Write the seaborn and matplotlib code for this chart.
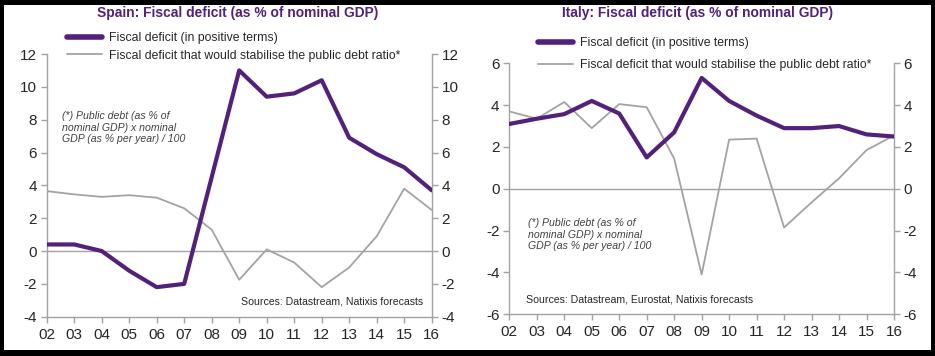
import pandas as pd
import matplotlib
matplotlib.use("Agg")
import matplotlib.pyplot as plt
import seaborn as sns
from matplotlib.patches import Rectangle
from matplotlib.lines import Line2D

# years on the x axis (20xx)
years = [2, 3, 4, 5, 6, 7, 8, 9, 10, 11, 12, 13, 14, 15, 16]
year_labels = ["02", "03", "04", "05", "06", "07", "08", "09", "10", "11", "12", "13", "14", "15", "16"]

# Spain
spain_deficit = [0.4, 0.4, 0.0, -1.2, -2.2, -2.0, 4.5, 11.0, 9.4, 9.6, 10.4, 6.9, 5.9, 5.1, 3.7]
spain_stable = [3.65, 3.45, 3.3, 3.4, 3.25, 2.6, 1.3, -1.75, 0.1, -0.7, -2.2, -1.0, 0.9, 3.8, 2.5]

# Italy
italy_deficit = [3.1, 3.35, 3.57, 4.2, 3.6, 1.5, 2.7, 5.3, 4.2, 3.5, 2.9, 2.9, 3.0, 2.6, 2.5]
italy_stable = [3.7, 3.35, 4.15, 2.9, 4.05, 3.9, 1.45, -4.1, 2.35, 2.4, -1.85, -0.65, 0.5, 1.85, 2.55]

PURPLE = "#53207a"
GREY = "#a3a3a3"
TEXT = "#262626"

sns.set_style("white")
plt.rcParams["font.family"] = ["Liberation Sans", "DejaVu Sans"]

W, H = 935, 356
fig = plt.figure(figsize=(W / 100, H / 100), dpi=100, facecolor="black")
# white panel inside the black frame
fig.patches.append(Rectangle((4 / W, 6 / H), (931 - 4) / W, (350 - 5) / H,
                             transform=fig.transFigure, facecolor="white",
                             edgecolor="none", zorder=-5))


def px_box(x0, y0, x1, y1):
    # pixel box (top-left origin) -> figure fraction [left, bottom, width, height]
    return [x0 / W, 1 - y1 / H, (x1 - x0) / W, (y1 - y0) / H]


def draw_panel(box, deficit, stable, ylim, yticks, title, title_xy, leg_xy, leg_gap,
               note_xy, source, source_xy):
    ax = fig.add_axes(px_box(*box))
    ax.set_facecolor("none")
    df = pd.DataFrame({"year": years, "deficit": deficit, "stable": stable})
    ax.axhline(0, color=GREY, lw=1, zorder=1)
    sns.lineplot(data=df, x="year", y="stable", ax=ax, color=GREY, lw=1.3, zorder=2)
    sns.lineplot(data=df, x="year", y="deficit", ax=ax, color=PURPLE, lw=3.0, zorder=3,
                 solid_capstyle="round")
    ax.set_xlim(years[0], years[-1])
    ax.set_ylim(*ylim)
    ax.set_xticks(years)
    ax.set_xticklabels(year_labels)
    ax.set_yticks(yticks)
    ax.set_yticklabels([str(t) for t in yticks])
    ax.set_xlabel("")
    ax.set_ylabel("")
    for side in ["left", "right", "bottom"]:
        ax.spines[side].set_visible(True)
        ax.spines[side].set_color(GREY)
        ax.spines[side].set_linewidth(1)
    ax.spines["top"].set_visible(False)
    ax.tick_params(axis="both", direction="out", length=4, width=1, color=GREY,
                   labelsize=11, labelcolor=TEXT, pad=3)
    ax.tick_params(axis="y", left=True, right=True, labelleft=True, labelright=True)
    ax.tick_params(axis="x", bottom=True, pad=4)

    fig.text(title_xy[0] / W, 1 - title_xy[1] / H, title, ha="center", va="center",
             fontsize=9.9, fontweight="bold", color=PURPLE)

    handles = [Line2D([], [], color=PURPLE, lw=4, solid_capstyle="round"),
               Line2D([], [], color=GREY, lw=1.3)]
    labels = ["Fiscal deficit (in positive terms)",
              "Fiscal deficit that would stabilise the public debt ratio*"]
    fig.legend(handles, labels, loc="upper left",
               bbox_to_anchor=(leg_xy[0] / W, 1 - leg_xy[1] / H),
               frameon=False, fontsize=8.8, handlelength=2.85, handletextpad=0.55,
               borderpad=0, borderaxespad=0, labelspacing=leg_gap,
               labelcolor=TEXT)

    fig.text(note_xy[0] / W, 1 - note_xy[1] / H,
             "(*) Public debt (as % of\nnominal GDP) x nominal\nGDP (as % per year) / 100",
             ha="left", va="top", fontsize=7.6, style="italic", color="#404040",
             linespacing=1.2)
    fig.text(source_xy[0] / W, 1 - source_xy[1] / H, source, ha="left", va="center",
             fontsize=7.6, color=TEXT)
    return ax


draw_panel((46.7, 54, 431.7, 316.7), spain_deficit, spain_stable, (-4, 12),
           [-4, -2, 0, 2, 4, 6, 8, 10, 12],
           "Spain: Fiscal deficit (as % of nominal GDP)", (238, 13),
           (67, 32), 0.45, (62, 111),
           "Sources: Datastream, Natixis forecasts", (241, 301))

draw_panel((509.3, 63.3, 894, 314.3), italy_deficit, italy_stable, (-6, 6),
           [-6, -4, -2, 0, 2, 4, 6],
           "Italy: Fiscal deficit (as % of nominal GDP)", (697, 13),
           (538, 37), 0.85, (528, 218),
           "Sources: Datastream, Eurostat, Natixis forecasts", (526, 300))

fig.savefig("out.png", dpi=100, facecolor=fig.get_facecolor())
